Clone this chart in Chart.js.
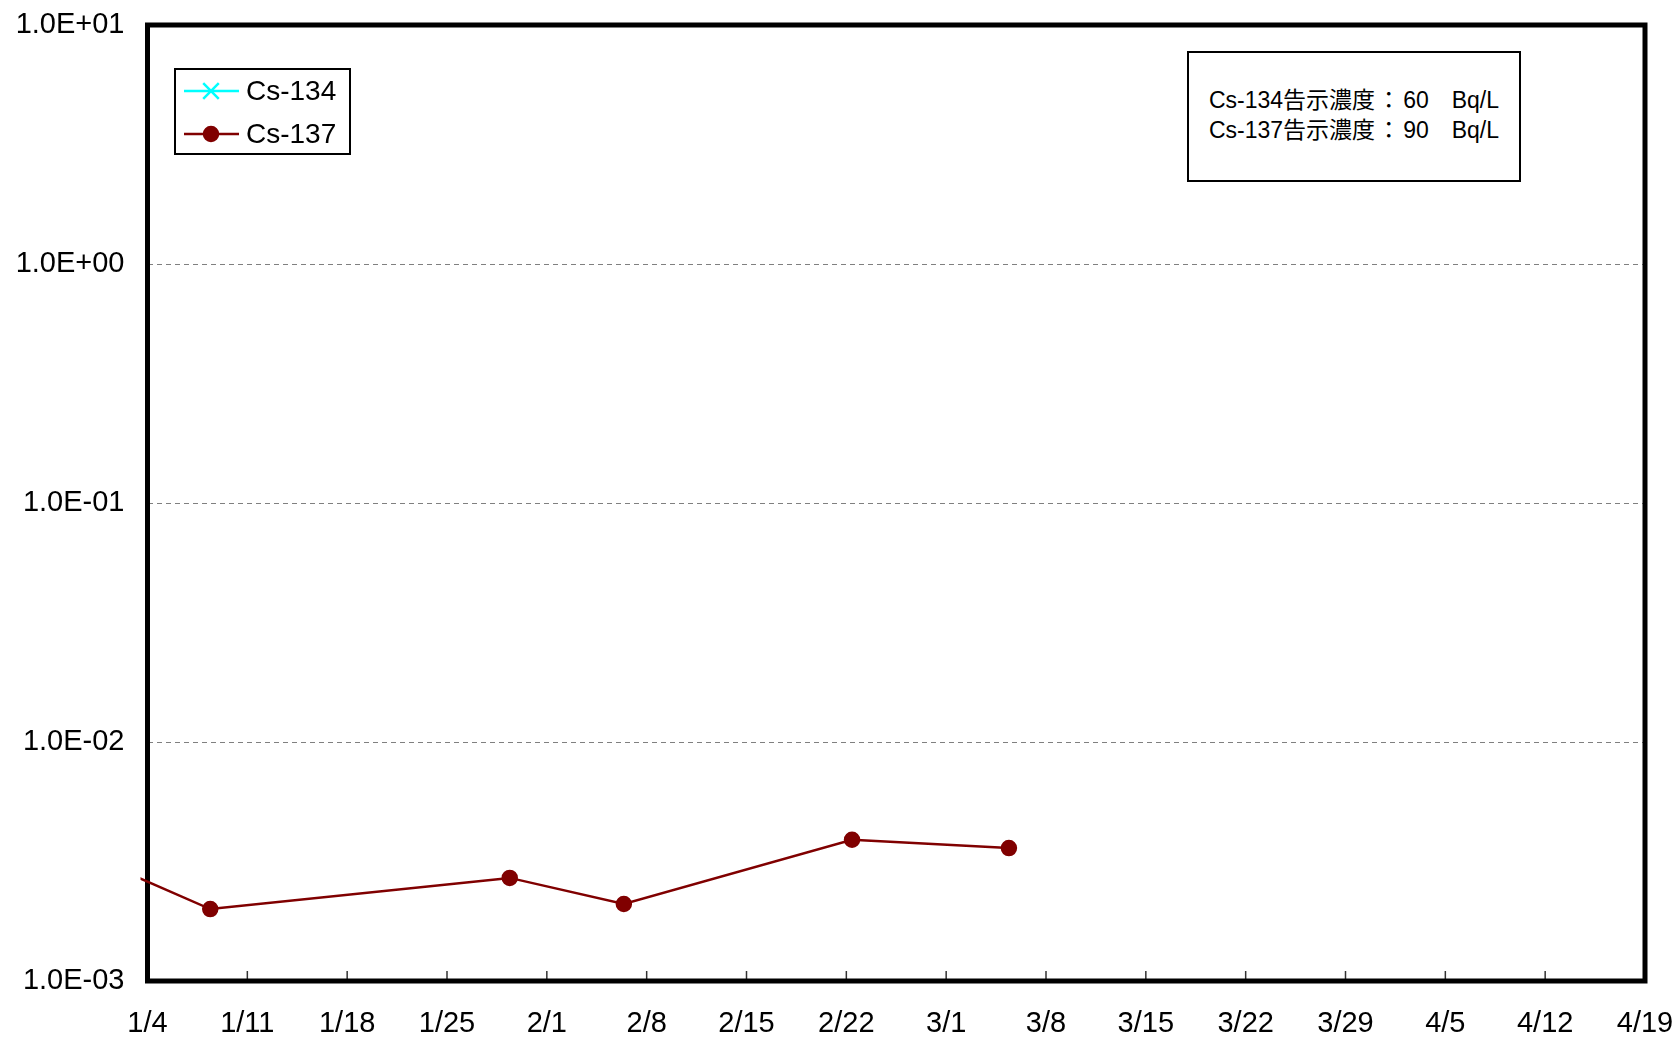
<!DOCTYPE html>
<html>
<head>
<meta charset="utf-8">
<script src="https://cdn.jsdelivr.net/npm/chart.js@4/dist/chart.umd.min.js"></script>
<style>
  html, body { margin: 0; padding: 0; background: #fff; }
  #wrap { position: relative; width: 1679px; height: 1041px; }
  #note {
    position: absolute; left: 1187px; top: 51px; width: 330px; height: 123px;
    padding-bottom: 4px;
    border: 2px solid #000; background: #fff;
    font-family: "Liberation Sans", Arial, "Noto Sans CJK JP", sans-serif;
    font-size: 23px; line-height: 27.5px; color: #000;
    display: flex; flex-direction: column; justify-content: center; align-items: center;
    white-space: pre;
  }
  #note .c { font-family: "Noto Sans CJK JP", sans-serif; padding: 0 3px 0 2px; }
</style>
</head>
<body>
<div id="wrap">
  <canvas id="chart" width="1679" height="1041"></canvas>
  <div id="note"><div>Cs-134告示濃度<span class="c">：</span>60　Bq/L</div><div>Cs-137告示濃度<span class="c">：</span>90　Bq/L</div></div>
</div>
<script>
// sampling dates and measured concentrations (Bq/L)
var sampleDates = ['1/3', '1/8', '1/29', '2/6', '2/22', '3/5'];
var cs134 = [null, null, null, null, null, null];
var cs137 = [0.0027, 0.0020, 0.0027, 0.0021, 0.0039, 0.0036];

var xTickLabels = ['1/4', '1/11', '1/18', '1/25', '2/1', '2/8', '2/15', '2/22',
                   '3/1', '3/8', '3/15', '3/22', '3/29', '4/5', '4/12', '4/19'];
var yTickValues = [0.001, 0.01, 0.1, 1, 10];
var yTickLabels = ['1.0E-03', '1.0E-02', '1.0E-01', '1.0E+00', '1.0E+01'];

var monthStart = [0, 31, 59, 90, 120, 151, 181, 212, 243, 273, 304, 334];
function dayNum(s) {
    var p = s.split('/');
    return monthStart[+p[0] - 1] + (+p[1]) - 4; // days since 1/4
}
// points sit in the middle of their day slot
function pts(vals) {
    return sampleDates.map(function (d, i) { return { x: dayNum(d) + 0.4, y: vals[i] }; });
}

var FONT = "'Liberation Sans', Arial, sans-serif";
Chart.defaults.font.family = FONT;
Chart.defaults.font.size = 29;
Chart.defaults.color = '#000';

var framePlugin = {
    id: 'frame',
    beforeDatasetsDraw: function (chart) {
        var a = chart.chartArea, ctx = chart.ctx;
        var xs = chart.scales.x;
        ctx.save();
        ctx.strokeStyle = '#333';
        ctx.lineWidth = 1.5;
        xs.ticks.forEach(function (t) {
            var px = xs.getPixelForValue(t.value);
            ctx.beginPath();
            ctx.moveTo(px, a.bottom);
            ctx.lineTo(px, a.bottom - 10);
            ctx.stroke();
        });
        ctx.strokeStyle = '#000';
        ctx.lineWidth = 5;
        ctx.strokeRect(a.left, a.top, a.right - a.left, a.bottom - a.top);
        ctx.restore();
    },
    afterDraw: function (chart) {
        var ctx = chart.ctx;
        ctx.save();
        ctx.fillStyle = '#fff';
        ctx.fillRect(175, 69, 175, 85);
        ctx.strokeStyle = '#000';
        ctx.lineWidth = 2;
        ctx.strokeRect(175, 69, 175, 85);
        var rows = [91, 134];
        chart.data.datasets.forEach(function (ds, i) {
            var y = rows[i];
            ctx.strokeStyle = ds.borderColor;
            ctx.lineWidth = 2.5;
            ctx.beginPath();
            ctx.moveTo(184, y);
            ctx.lineTo(239, y);
            ctx.stroke();
            Chart.helpers.drawPoint(ctx, {
                pointStyle: ds.pointStyle, radius: ds.legendRadius,
                borderWidth: 2.5, rotation: 0
            }, 211, y);
            if (ds.pointStyle === 'circle') {
                ctx.fillStyle = ds.pointBackgroundColor;
                ctx.beginPath();
                ctx.arc(211, y, ds.legendRadius, 0, Math.PI * 2);
                ctx.fill();
            }
            ctx.fillStyle = '#000';
            ctx.font = '28px ' + FONT;
            ctx.textBaseline = 'middle';
            ctx.textAlign = 'left';
            ctx.fillText(ds.label, 246, y + 1);
        });
        ctx.restore();
    }
};

var ctx = document.getElementById('chart').getContext('2d');
new Chart(ctx, {
    type: 'line',
    data: {
        datasets: [{
            label: 'Cs-134',
            data: pts(cs134),
            borderColor: '#00FFFF',
            pointBackgroundColor: '#00FFFF',
            pointBorderColor: '#00FFFF',
            pointStyle: 'crossRot',
            pointRadius: 11,
            legendRadius: 11,
            borderWidth: 2.5,
            spanGaps: false
        }, {
            label: 'Cs-137',
            data: pts(cs137),
            borderColor: '#800000',
            pointBackgroundColor: '#800000',
            pointBorderColor: '#800000',
            pointStyle: 'circle',
            pointRadius: function (c) { return c.raw && c.raw.x < 0 ? 0 : 7; },
            legendRadius: 7,
            borderWidth: 2.5,
            tension: 0,
            clip: { left: 7, right: 0, top: 0, bottom: 0 }
        }]
    },
    options: {
        responsive: false,
        animation: false,
        layout: { padding: { top: 25, right: 34, left: 0, bottom: 0 } },
        plugins: { legend: { display: false }, tooltip: { enabled: false } },
        scales: {
            x: {
                type: 'linear',
                min: 0,
                max: 105,
                afterBuildTicks: function (s) {
                    s.ticks = xTickLabels.map(function (l) { return { value: dayNum(l) }; });
                },
                afterFit: function (s) {
                    s.height = 60;
                    s.paddingLeft = 0; s.paddingRight = 0;
                },
                ticks: {
                    padding: 26,
                    maxRotation: 0,
                    autoSkip: false,
                    callback: function (v, i) { return xTickLabels[i]; }
                },
                grid: { display: false, drawTicks: false },
                border: { display: false }
            },
            y: {
                type: 'logarithmic',
                min: 0.001,
                max: 10,
                afterBuildTicks: function (s) {
                    s.ticks = yTickValues.map(function (v) { return { value: v }; });
                },
                afterFit: function (s) {
                    s.width = 147.5;
                    s.paddingTop = 0; s.paddingBottom = 0;
                },
                ticks: {
                    padding: 23,
                    autoSkip: false,
                    callback: function (v, i) { return yTickLabels[i]; }
                },
                grid: { color: '#808080', lineWidth: 1, drawTicks: false },
                border: { display: false, dash: [5, 4] }
            }
        }
    },
    plugins: [framePlugin]
});
</script>
</body>
</html>
